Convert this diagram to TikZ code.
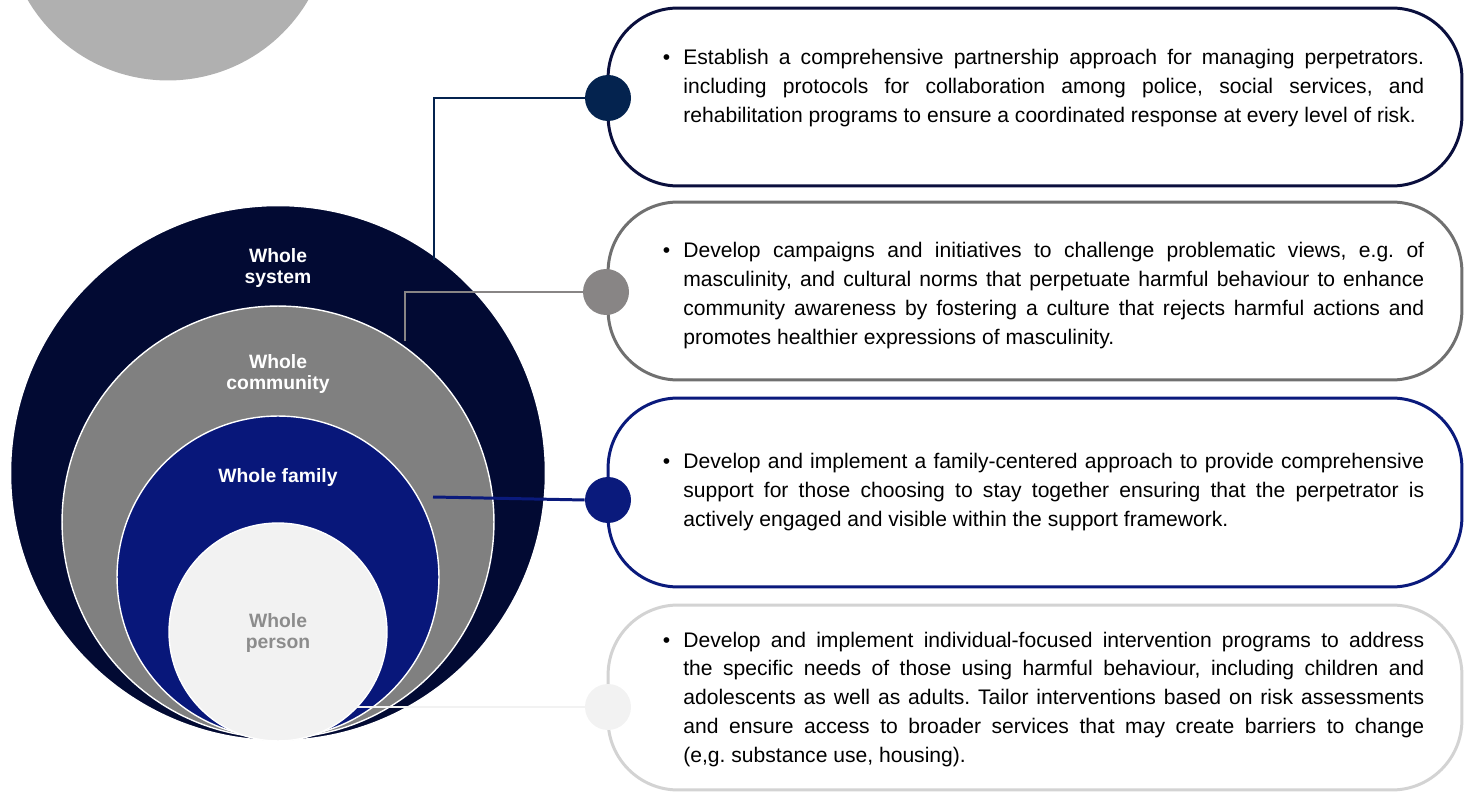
\documentclass[tikz,border=0pt]{standalone}
\usepackage{fontspec}
\setmainfont{Liberation Sans}
\usetikzlibrary{positioning}

\definecolor{sysNavy}{HTML}{020A33}
\definecolor{commGray}{HTML}{808080}
\definecolor{famBlue}{HTML}{08177A}
\definecolor{personGray}{HTML}{F2F2F2}
\definecolor{topGray}{HTML}{B0B0B0}
\definecolor{edgeA}{HTML}{0A0F3D}
\definecolor{dotA}{HTML}{04234F}
\definecolor{edgeB}{HTML}{707070}
\definecolor{dotB}{HTML}{888585}
\definecolor{edgeC}{HTML}{0A1A7C}
\definecolor{edgeD}{HTML}{D3D3D3}
\definecolor{labelGray}{HTML}{8C8C8C}

\newcommand{\bul}{\llap{\textbullet\hskip 7.4pt}}

\begin{document}
\begin{tikzpicture}[x=0.02cm, y=-0.02cm,
	ring/.style={circle, draw=white, line width=0.8pt, inner sep=0pt},
	lbl/.style={align=center, text=white, font=\fontsize{11}{12}\selectfont\bfseries},
	box/.style={draw, line width=1.7pt, rounded corners=1.4cm, minimum width=17.08cm},
	dot/.style={circle, inner sep=0pt, minimum size=0.92cm},
	link/.style={line width=1.7pt},
	txt/.style={anchor=base west, inner sep=0pt, text width=14.82cm, align=justify,
		font=\fontsize{12}{16.44}\selectfont\frenchspacing}]
	\clip (0,0) rectangle (1474,793);

	% circles
	\node[ring, draw=none, fill=topGray, minimum size=6.5cm] (top) at (168,-82) {};
	\node[ring, fill=sysNavy, minimum size=10.7cm] (system) at (278,473) {};
	\node[ring, fill=commGray, minimum size=8.64cm] (community) at (278,522) {};
	\node[ring, fill=famBlue, minimum size=6.44cm] (family) at (278,577) {};
	\node[ring, fill=personGray, minimum size=4.36cm] (person) at (278,632) {};

	\node[lbl] (systemLbl) at (278,268) {Whole\\system};
	\node[lbl] (communityLbl) at (278,374) {Whole\\community};
	\node[lbl] (familyLbl) at (278,478) {Whole family};
	\node[lbl, text=labelGray] (personLbl) at (278,633) {Whole\\person};

	% boxes
	\node[box, draw=edgeA, minimum height=3.56cm] (boxA) at (1035,97) {};
	\node[box, draw=edgeB, minimum height=3.56cm] (boxB) at (1035,291) {};
	\node[box, draw=edgeC, minimum height=3.78cm] (boxC) at (1035,492.5) {};
	\node[box, draw=edgeD, minimum height=3.7cm] (boxD) at (1035,697.5) {};

	% connectors
	\coordinate (endA) at (434,260);
	\coordinate (endB) at (405,341);
	\coordinate (endC) at (433,497);
	\coordinate (endD) at (305,707);
	\node[dot, fill=dotA] (dA) at (608,98) {};
	\node[dot, fill=dotB] (dB) at (606,292) {};
	\node[dot, fill=edgeC] (dC) at (608,500) {};
	\node[dot, fill=personGray] (dD) at (608,707) {};
	\draw[link, draw=dotA] (dA.west) -| (endA);
	\draw[link, draw=dotB] (dB.west) -| (endB);
	\draw[link, draw=edgeC] (dC.west) -- (endC);
	\draw[link, draw=personGray] (dD.west) -- (endD);

	% texts
	\node[txt] (txtA) at (683,65) {\bul Establish a comprehensive partnership approach for managing perpetrators.\linebreak
		including protocols for collaboration among police, social services, and\linebreak
		rehabilitation programs to ensure a coordinated response at every level of risk.};
	\node[txt] (txtB) at (683,258) {\bul Develop campaigns and initiatives to challenge problematic views, e.g. of\linebreak
		masculinity, and cultural norms that perpetuate harmful behaviour to enhance\linebreak
		community awareness by fostering a culture that rejects harmful actions and\linebreak
		promotes healthier expressions of masculinity.};
	\node[txt] (txtC) at (683,469) {\bul Develop and implement a family-centered approach to provide comprehensive\linebreak
		support for those choosing to stay together ensuring that the perpetrator is\linebreak
		actively engaged and visible within the support framework.};
	\node[txt] (txtD) at (683,647) {\bul Develop and implement individual-focused intervention programs to address\linebreak
		the specific needs of those using harmful behaviour, including children and\linebreak
		adolescents as well as adults. Tailor interventions based on risk assessments\linebreak
		and ensure access to broader services that may create barriers to change\linebreak
		(e,g. substance use, housing).};
\end{tikzpicture}
\end{document}
